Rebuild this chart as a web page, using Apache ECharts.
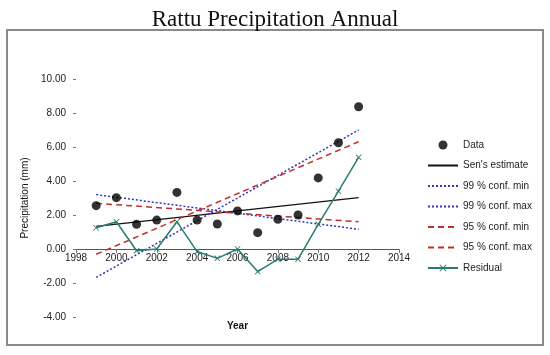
<!DOCTYPE html>
<html>
<head>
<meta charset="utf-8">
<script src="https://cdn.jsdelivr.net/npm/echarts@6/dist/echarts.min.js"></script>
<style>
html,body{margin:0;padding:0;background:#fff;}
#chart{width:550px;height:355px;}
</style>
</head>
<body>
<div id="chart"></div>
<script>
// ---- data ----
var years = [1999, 2000, 2001, 2002, 2003, 2004, 2005, 2006, 2007, 2008, 2009, 2010, 2011, 2012];
var precip = [2.55, 3.02, 1.45, 1.70, 3.33, 1.70, 1.47, 2.24, 0.96, 1.75, 2.00, 4.18, 6.25, 8.37];
var residual = [1.25, 1.60, -0.10, 0.00, 1.60, -0.15, -0.55, 0.00, -1.33, -0.60, -0.60, 1.45, 3.40, 5.39];
var lineYears = [1999, 2012];
var sensEstimate = [1.33, 3.02];
var conf99min = [3.20, 1.16];
var conf99max = [-1.67, 7.00];
var conf95min = [2.69, 1.60];
var conf95max = [-0.31, 6.31];
var seriesNames = ['Data', "Sen's estimate", '99 % conf. min', '99 % conf. max', '95 % conf. min', '95 % conf. max', 'Residual'];
var xTicks = {min: 1998, max: 2014, interval: 2};
var yTicks = {min: -4, max: 10, interval: 2};

function pairs(xs, ys) { return xs.map(function (x, i) { return [x, ys[i]]; }); }

var FONT = 'Liberation Sans';
var blue = '#3535b8', red = '#c0302a', teal = '#2c7a70';
var xShape = 'path://M0,1 L1,0 L5,4 L9,0 L10,1 L6,5 L10,9 L9,10 L5,6 L1,10 L0,9 L4,5 Z';

var gridTop = 79, gridBottom = 38, chartH = 355;
// the x axis crosses the y axis at 0: shift it up from the grid bottom by the 0 -> min distance
var plotH = chartH - gridTop - gridBottom;
var zeroOffset = -plotH * (0 - yTicks.min) / (yTicks.max - yTicks.min);

function trend(name, ys, color, type, width) {
  return {
    name: name, type: 'line', data: pairs(lineYears, ys), symbol: 'none',
    lineStyle: {color: color, type: type, width: width}, itemStyle: {color: color},
    silent: true, z: 3
  };
}

var legendData = seriesNames.map(function (n, i) {
  if (i === 0 || i === 6) return {name: n};
  return {name: n, itemStyle: {opacity: 0}};
});

var chart = echarts.init(document.getElementById('chart'), null, {renderer: 'canvas'});
chart.setOption({
  animation: false,
  backgroundColor: '#fff',
  title: {
    text: 'Rattu Precipitation Annual', left: 'center', top: 3,
    textStyle: {fontFamily: 'Liberation Serif', fontSize: 23, fontWeight: 'normal', color: '#111'}
  },
  graphic: [{
    type: 'rect', shape: {x: 7, y: 30, width: 536, height: 315},
    style: {fill: 'none', stroke: '#8a8a8a', lineWidth: 2}, silent: true, z: -1
  }],
  grid: {left: 76, right: 151, top: gridTop, bottom: gridBottom, containLabel: false, outerBoundsMode: 'none'},
  legend: {
    orient: 'vertical', left: 422, top: 134,
    itemWidth: 30, itemHeight: 9, itemGap: 8.5,
    data: legendData,
    textStyle: {fontFamily: FONT, fontSize: 10, color: '#222', lineHeight: 12}
  },
  xAxis: {
    type: 'value', min: xTicks.min, max: xTicks.max, interval: xTicks.interval,
    offset: zeroOffset,
    name: 'Year', nameLocation: 'middle', nameGap: 72,
    nameTextStyle: {fontFamily: FONT, fontSize: 10, fontWeight: 'bold', color: '#111'},
    axisLine: {onZero: false, lineStyle: {color: '#555', width: 1}},
    axisTick: {show: true, length: 4, inside: false, lineStyle: {color: '#777'}},
    axisLabel: {fontFamily: FONT, fontSize: 10, color: '#222', margin: 4, formatter: function (v) { return String(v); }},
    splitLine: {show: false}
  },
  yAxis: {
    type: 'value', min: yTicks.min, max: yTicks.max, interval: yTicks.interval,
    name: 'Precipitation (mm)', nameLocation: 'middle', nameGap: 42, nameRotate: 90,
    nameTextStyle: {fontFamily: FONT, fontSize: 10, color: '#111'},
    axisLine: {show: false},
    axisTick: {show: true, length: 3, lineStyle: {color: '#777'}},
    axisLabel: {fontFamily: FONT, fontSize: 10, color: '#222', margin: 10, formatter: function (v) { return v.toFixed(2); }},
    splitLine: {show: false}
  },
  series: [
    {name: seriesNames[0], type: 'scatter', data: pairs(years, precip), symbol: 'circle', symbolSize: 9,
     itemStyle: {color: '#000'}, z: 5},
    trend(seriesNames[1], sensEstimate, '#111', 'solid', 1.3),
    trend(seriesNames[2], conf99min, blue, [2, 2], 1.5),
    trend(seriesNames[3], conf99max, blue, [2, 2], 1.5),
    trend(seriesNames[4], conf95min, red, [6, 4], 1.5),
    trend(seriesNames[5], conf95max, red, [6, 4], 1.5),
    {name: seriesNames[6], type: 'line', data: pairs(years, residual), symbol: xShape, symbolSize: 6,
     showSymbol: true, lineStyle: {color: teal, width: 1.5}, itemStyle: {color: teal}, z: 4}
  ]
});
</script>
</body>
</html>
